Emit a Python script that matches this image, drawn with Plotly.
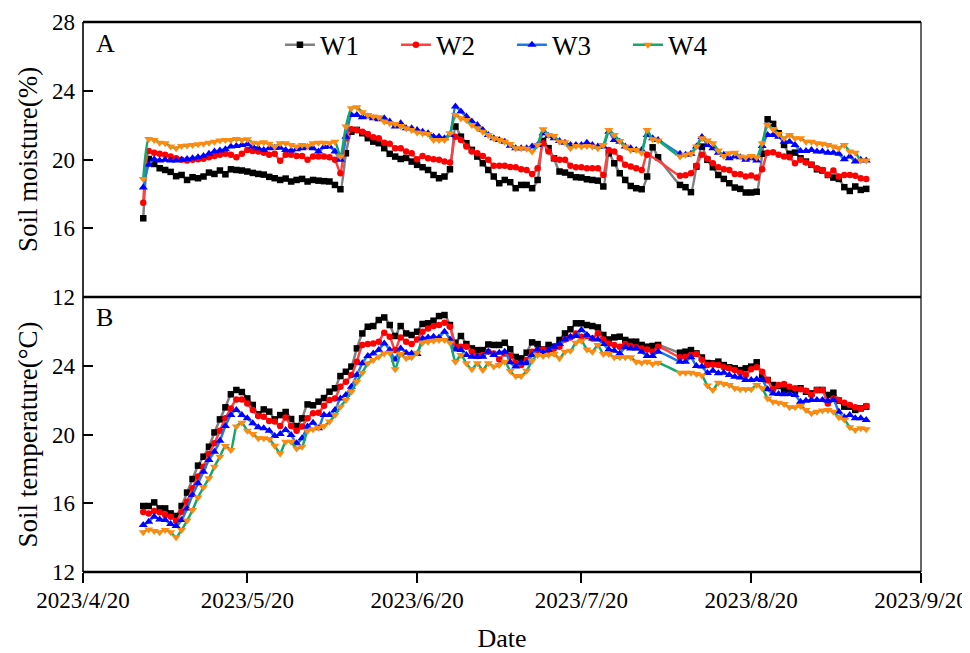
import pandas as pd
import plotly.graph_objects as go

dates = pd.date_range("2023-05-01", "2023-09-10", freq="D")
N = None

# Panel A: soil moisture (%)
mw1 = [16.58, 20.03, 19.74, 19.49, 19.39, 19.28, 19.03, 19.10, 18.81, 18.97,
       18.91, 19.01, 19.24, 19.16, 19.36, 19.14, 19.43, 19.39, 19.36, 19.30,
       19.22, 19.16, 19.12, 18.99, 18.91, 18.81, 18.89, 18.72, 18.81, 18.87,
       18.72, 18.81, 18.77, 18.74, 18.72, 18.52, 18.27, 20.36, 21.62, 21.72,
       21.53, 21.24, 21.04, 20.95, 20.66, 20.33, 20.17, 20.03, 20.09, 19.88,
       19.69, 19.55, 19.39, 19.10, 18.91, 19.01, 19.43, 21.92, 21.33, 20.95,
       20.56, 20.17, 19.78, 19.39, 19.01, 18.62, 18.81, 18.68, 18.33, 18.52,
       18.52, 18.33, 18.81, 21.08, 20.66, 20.07, 19.30, 19.24, 19.10, 18.97,
       18.95, 18.85, 18.81, 18.77, 18.43, 20.36, 19.78, 19.20, 18.81, 18.46,
       18.33, 18.27, 19.01, 20.71, 20.13, N, N, N, 18.52, 18.39,
       18.10, 19.59, 20.75, 19.98, 19.55, 19.10, 18.87, 18.62, 18.37, 18.29,
       18.08, 18.08, 18.12, 20.33, 22.34, 22.07, 21.53, 20.85, 20.33, 20.40,
       20.07, 19.88, 19.69, 19.43, 19.36, 19.10, 18.95, 18.87, 18.39, 18.17,
       18.43, 18.23, 18.29]
mw2 = [17.48, 20.50, 20.40, 20.33, 20.27, 20.17, 20.07, 19.98, 19.94, 19.98,
       20.01, 20.05, 20.13, 20.21, 20.27, 20.33, 20.27, 20.13, 20.33, 20.56,
       20.50, 20.46, 20.40, 20.27, 20.33, 19.92, 20.27, 20.27, 20.21, 20.21,
       19.98, 20.17, 20.17, 20.17, 20.13, 19.98, 19.20, 21.24, 21.76, 21.72,
       21.62, 21.49, 21.29, 21.24, 20.98, 20.91, 20.66, 20.66, 20.46, 20.36,
       20.01, 20.21, 20.07, 20.01, 19.98, 19.88, 19.82, 21.33, 21.14, 20.75,
       20.46, 20.36, 20.21, 19.98, 19.63, 19.63, 19.63, 19.57, 19.55, 19.43,
       19.39, 19.16, 19.49, 20.95, 20.46, 20.07, 19.98, 19.98, 19.63, 19.55,
       19.55, 19.49, 19.49, 19.49, 19.10, 20.56, 20.46, 20.07, 19.69, 19.59,
       19.49, 19.39, 20.27, N, N, N, N, N, 19.05, 19.09,
       19.20, 19.63, 20.28, 20.05, 19.78, 19.55, 19.43, 19.39, 19.16, 19.14,
       19.01, 19.07, 18.95, 19.43, 20.40, 20.42, 20.27, 20.17, 20.13, 19.78,
       19.98, 19.82, 19.69, 19.49, 19.39, 19.10, 19.36, 19.01, 19.10, 19.10,
       19.05, 18.91, 18.87]
mw3 = [18.37, 19.69, 20.01, 19.94, 19.98, 19.94, 19.94, 19.98, 20.03, 20.07,
       20.13, 20.21, 20.33, 20.46, 20.52, 20.60, 20.75, 20.79, 20.85, 20.89,
       20.75, 20.66, 20.56, 20.66, 20.69, 20.69, 20.56, 20.52, 20.60, 20.66,
       20.71, 20.66, 20.46, 20.73, 20.75, 20.46, 19.98, 21.33, 22.59, 22.59,
       22.46, 22.50, 22.40, 22.34, 22.40, 22.21, 21.92, 22.11, 21.82, 21.82,
       21.72, 21.62, 21.53, 21.33, 21.33, 21.24, 21.43, 23.08, 22.79, 22.50,
       22.21, 22.01, 21.72, 21.43, 21.24, 21.14, 21.04, 20.80, 20.66, 20.66,
       20.66, 20.75, 20.85, 21.53, 21.37, 21.24, 21.08, 20.98, 20.85, 20.85,
       20.85, 20.98, 20.85, 20.75, 20.75, 21.62, 21.14, 21.04, 20.75, 20.66,
       20.56, 20.56, 21.43, 21.24, 21.14, N, N, N, 20.33, 20.27,
       20.33, 20.75, 21.31, 20.85, 20.66, 20.40, 20.27, 20.07, 20.17, 20.13,
       19.98, 20.07, 19.94, 20.79, 21.43, 21.43, 21.33, 21.04, 21.04, 20.85,
       20.50, 20.50, 20.56, 20.46, 20.46, 20.40, 20.40, 20.33, 20.01, 20.17,
       19.88, 19.98, 19.94]
mw4 = [18.87, 21.20, 21.14, 20.98, 20.95, 20.75, 20.66, 20.79, 20.81, 20.85,
       20.89, 20.91, 20.98, 21.04, 21.10, 21.14, 21.14, 21.20, 21.14, 21.18,
       20.98, 20.95, 21.00, 20.91, 20.75, 20.95, 20.95, 20.85, 20.75, 20.85,
       20.79, 20.95, 20.98, 20.98, 20.95, 21.04, 20.17, 21.92, 22.98, 23.04,
       22.75, 22.59, 22.50, 22.46, 22.21, 22.11, 22.07, 21.95, 21.82, 21.72,
       21.57, 21.53, 21.49, 21.14, 21.14, 21.14, 21.53, 22.59, 22.40, 22.30,
       22.01, 21.82, 21.62, 21.43, 21.24, 21.14, 21.04, 20.90, 20.66, 20.66,
       20.62, 20.46, 20.85, 21.76, 21.43, 21.37, 21.04, 21.00, 20.66, 20.79,
       20.75, 20.79, 20.75, 20.66, 20.85, 21.72, 21.43, 21.08, 20.75, 20.56,
       20.56, 20.40, 21.72, 21.18, 21.10, N, N, N, 20.17, 20.27,
       20.33, 20.75, 21.24, 21.10, 20.95, 20.52, 20.21, 20.36, 20.40, 20.17,
       20.13, 20.21, 20.13, 20.95, 22.01, 21.76, 21.49, 21.24, 21.43, 21.24,
       21.24, 21.04, 21.04, 20.95, 20.91, 20.85, 20.75, 20.66, 20.85, 20.46,
       20.40, 19.94, 19.94]

# Panel B: soil temperature (°C)
tw1 = [15.84, 15.84, 16.05, 15.70, 15.70, 15.41, 15.26, 15.84, 16.62, 17.41,
       18.19, 18.71, 19.29, 20.12, 20.88, 21.58, 22.34, 22.59, 22.47, 22.10,
       21.72, 21.17, 21.46, 21.33, 20.88, 21.13, 21.31, 20.90, 20.49, 20.94,
       21.75, 21.70, 21.91, 22.12, 22.49, 22.69, 23.40, 23.65, 23.95, 25.01,
       25.88, 26.27, 26.31, 26.66, 26.81, 26.37, 25.73, 26.31, 25.88, 25.79,
       25.98, 26.43, 26.47, 26.62, 26.89, 26.95, 26.37, 25.34, 25.73, 25.26,
       25.01, 24.91, 24.91, 25.24, 25.21, 25.21, 25.34, 24.96, 24.51, 24.43,
       24.76, 25.36, 25.26, 24.95, 25.21, 25.11, 25.50, 25.88, 26.12, 26.47,
       26.47, 26.37, 26.31, 26.23, 25.79, 25.53, 25.65, 25.69, 25.50, 25.40,
       25.40, 25.21, 25.11, 25.15, 25.21, N, N, N, 24.76, 24.82,
       24.91, 24.72, 24.48, 24.16, 24.14, 24.24, 24.04, 23.91, 23.85, 23.75,
       23.85, 23.95, 24.20, 23.36, 23.17, 22.88, 22.82, 22.59, 22.63, 22.53,
       22.69, 22.49, 22.39, 22.59, 22.59, 22.30, 22.43, 21.97, 21.62, 21.62,
       21.43, 21.52, 21.62]
tw2 = [15.49, 15.41, 15.55, 15.47, 15.32, 15.22, 14.97, 15.51, 16.09, 16.87,
       17.55, 18.13, 18.86, 19.49, 20.22, 20.94, 21.52, 22.04, 22.04, 21.81,
       21.42, 21.07, 21.04, 20.78, 20.75, 20.49, 20.99, 20.49, 20.22, 20.46,
       20.94, 21.23, 21.27, 21.67, 22.01, 22.10, 22.78, 23.07, 23.46, 24.24,
       25.21, 25.26, 25.30, 25.40, 25.92, 25.69, 24.91, 25.65, 25.40, 25.26,
       25.53, 25.98, 26.17, 26.31, 26.37, 26.50, 26.27, 25.11, 25.11, 25.11,
       24.82, 24.57, 24.62, 24.82, 24.72, 24.37, 24.72, 24.58, 24.18, 24.04,
       24.33, 24.82, 24.91, 24.95, 24.91, 25.01, 25.11, 25.53, 25.65, 25.88,
       25.69, 25.73, 25.59, 25.88, 25.53, 25.30, 25.21, 25.11, 25.26, 25.15,
       25.07, 25.01, 24.95, 24.82, 25.11, N, N, N, 24.49, 24.53,
       24.62, 24.68, 24.35, 24.05, 24.08, 24.04, 23.91, 23.85, 23.75, 23.60,
       23.46, 23.79, 23.91, 23.65, 23.17, 22.63, 22.88, 22.94, 22.78, 22.69,
       22.63, 22.55, 22.30, 22.59, 22.59, 21.81, 22.10, 22.01, 21.85, 21.72,
       21.58, 21.52, 21.66]
tw3 = [14.73, 14.93, 15.22, 15.06, 15.02, 14.79, 14.68, 15.02, 15.70, 16.48,
       17.16, 17.84, 18.52, 19.00, 19.64, 20.49, 21.13, 21.42, 21.13, 20.94,
       20.65, 20.42, 20.36, 20.22, 19.91, 20.03, 20.26, 19.97, 19.49, 19.78,
       20.46, 20.69, 20.36, 21.13, 21.13, 21.42, 22.10, 22.30, 22.78, 23.46,
       24.14, 24.57, 24.72, 24.91, 25.30, 24.91, 24.37, 25.01, 24.76, 24.72,
       24.68, 25.59, 25.65, 25.69, 25.65, 25.98, 25.53, 24.95, 24.91, 24.62,
       24.53, 24.53, 24.53, 24.82, 24.62, 24.76, 24.82, 24.20, 23.95, 24.18,
       24.14, 24.62, 24.95, 24.76, 24.91, 25.11, 25.26, 25.53, 25.69, 25.73,
       26.08, 25.79, 25.59, 25.53, 25.26, 24.95, 24.87, 24.72, 25.07, 25.01,
       25.01, 24.82, 24.57, 24.57, 24.82, N, N, N, 24.24, 24.24,
       24.49, 23.98, 23.95, 23.58, 23.71, 23.56, 23.60, 23.46, 23.36, 23.32,
       23.17, 23.17, 23.21, 23.17, 22.63, 22.39, 22.36, 22.34, 22.36, 22.30,
       21.91, 21.97, 22.01, 22.01, 22.01, 21.97, 22.01, 21.33, 21.00, 21.13,
       20.94, 20.94, 20.84]
tw4 = [14.31, 14.48, 14.39, 14.31, 14.44, 14.31, 14.02, 14.44, 14.99, 15.61,
       16.34, 16.93, 17.45, 18.13, 18.71, 19.33, 19.10, 20.46, 20.69, 20.22,
       20.03, 19.78, 19.78, 19.72, 19.35, 18.90, 19.58, 19.58, 19.19, 19.29,
       20.20, 20.30, 20.40, 20.49, 20.75, 21.13, 21.62, 22.01, 22.49, 23.07,
       23.60, 24.14, 24.33, 24.53, 24.72, 24.76, 23.79, 24.68, 24.43, 24.49,
       24.76, 25.34, 25.40, 25.46, 25.50, 25.50, 25.34, 24.24, 24.62, 24.14,
       23.79, 24.14, 23.75, 24.14, 23.95, 24.04, 24.24, 23.70, 23.40, 23.40,
       23.71, 24.29, 24.62, 24.57, 24.62, 24.68, 24.43, 24.82, 24.87, 25.34,
       25.46, 24.95, 24.82, 25.21, 24.68, 24.68, 24.49, 24.49, 24.49, 24.49,
       24.24, 24.18, 24.24, 24.10, 24.18, N, N, N, 23.60, 23.60,
       23.60, 23.52, 23.43, 22.85, 22.59, 23.01, 22.94, 22.88, 22.69, 22.63,
       22.63, 22.63, 22.88, 22.69, 22.10, 21.91, 21.85, 21.77, 21.58, 21.58,
       21.66, 21.43, 21.23, 21.33, 21.39, 21.43, 21.33, 21.00, 20.88, 20.42,
       20.26, 20.36, 20.30]

names = ["W1", "W2", "W3", "W4"]
line_colors = ["#808080", "#ff4040", "#1e78e6", "#16a86a"]
marker_colors = ["#000000", "#ff0000", "#0000ff", "#ff8a10"]
symbols = ["square", "circle", "triangle-up", "triangle-down"]
msizes = [6.5, 6.5, 8, 8]

tick_dates = ["2023-04-20", "2023-05-20", "2023-06-20", "2023-07-20", "2023-08-20", "2023-09-20"]
tick_text = ["2023/4/20", "2023/5/20", "2023/6/20", "2023/7/20", "2023/8/20", "2023/9/20"]

FONT = "Liberation Serif, Times New Roman, serif"

fig = go.Figure()
moist = [mw1, mw2, mw3, mw4]
temp = [tw1, tw2, tw3, tw4]
for k in range(4):
    fig.add_trace(go.Scatter(
        x=dates, y=moist[k], name=names[k], mode="lines+markers",
        xaxis="x", yaxis="y", connectgaps=True,
        line=dict(color=line_colors[k], width=2.5, shape="spline", smoothing=0.6),
        marker=dict(color=marker_colors[k], symbol=symbols[k], size=msizes[k], line=dict(width=0)),
        legendgroup=names[k], showlegend=True))
for k in range(4):
    fig.add_trace(go.Scatter(
        x=dates, y=temp[k], name=names[k], mode="lines+markers",
        xaxis="x", yaxis="y2", connectgaps=True,
        line=dict(color=line_colors[k], width=2.5, shape="spline", smoothing=0.6),
        marker=dict(color=marker_colors[k], symbol=symbols[k], size=msizes[k], line=dict(width=0)),
        legendgroup=names[k], showlegend=False))

fig.update_layout(
    template="none",
    width=962, height=645,
    margin=dict(l=75, r=49, t=14, b=81, autoexpand=False),
    paper_bgcolor="white", plot_bgcolor="white",
    font=dict(family=FONT, size=23, color="black"),
    showlegend=True,
    legend=dict(orientation="h", x=0.235, xanchor="left", y=0.958, yanchor="middle",
                font=dict(family=FONT, size=27, color="black"),
                bgcolor="rgba(0,0,0,0)", entrywidth=71, entrywidthmode="pixels",
                itemwidth=30, tracegroupgap=0, borderwidth=0),
    xaxis=dict(type="date", range=["2023-04-20", "2023-09-20"], anchor="y2",
               automargin=False,
               tickmode="array", tickvals=tick_dates, ticktext=tick_text,
               ticks="outside", ticklen=10, tickwidth=1.5, tickcolor="black",
               ticklabelstandoff=-3,
               showline=False, showgrid=False, zeroline=False,
               tickfont=dict(family=FONT, size=23),
               title=dict(text="Date", font=dict(family=FONT, size=26), standoff=18)),
    yaxis=dict(domain=[0.5, 1.0], range=[12, 28], anchor="x", automargin=False,
               tickmode="array", tickvals=[12, 16, 20, 24, 28],
               ticks="inside", ticklen=10, tickwidth=1.5, tickcolor="black",
               ticklabelstandoff=7,
               showline=False, showgrid=False, zeroline=False,
               tickfont=dict(family=FONT, size=23),
               title=dict(text="Soil moisture(%)", font=dict(family=FONT, size=27), standoff=6)),
    yaxis2=dict(domain=[0.0, 0.5], range=[12, 28], anchor="x", automargin=False,
                tickmode="array", tickvals=[12, 16, 20, 24],
                ticks="inside", ticklen=10, tickwidth=1.5, tickcolor="black",
                ticklabelstandoff=7,
                showline=False, showgrid=False, zeroline=False,
                tickfont=dict(family=FONT, size=23),
                title=dict(text="Soil temperature(°C)", font=dict(family=FONT, size=27), standoff=6)),
)

# frame lines
for yv in [0.0, 0.5, 1.0]:
    fig.add_shape(type="line", xref="paper", yref="paper", x0=0, x1=1, y0=yv, y1=yv,
                  line=dict(color="black", width=2.5), layer="above")
fig.add_shape(type="line", xref="paper", yref="paper", x0=0, x1=0, y0=0, y1=1,
              line=dict(color="black", width=1.6), layer="above")
fig.add_shape(type="line", xref="paper", yref="paper", x0=1, x1=1, y0=0, y1=1,
              line=dict(color="black", width=1.2), layer="above")

fig.add_annotation(text="A", xref="paper", yref="paper", x=0.0135, y=0.961,
                   xanchor="left", yanchor="middle", showarrow=False,
                   font=dict(family=FONT, size=26, color="black"))
fig.add_annotation(text="B", xref="paper", yref="paper", x=0.0135, y=0.463,
                   xanchor="left", yanchor="middle", showarrow=False,
                   font=dict(family=FONT, size=26, color="black"))

fig.write_html("out.html")
